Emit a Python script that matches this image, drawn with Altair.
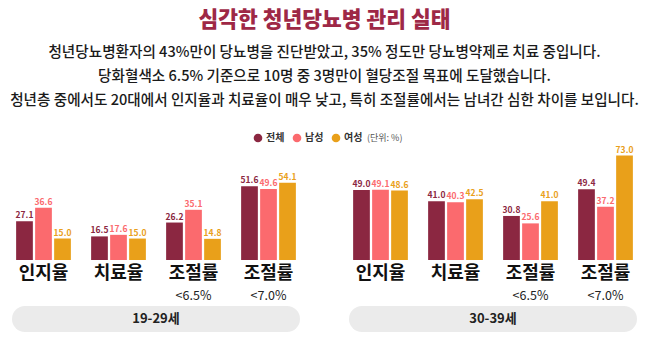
import altair as alt
import pandas as pd

# ---- data ----
metrics = ["인지율", "치료율", "조절률<6.5", "조절률<7.0"]
metric_labels = ["인지율", "치료율", "조절률", "조절률"]
metric_sub = ["", "", "<6.5%", "<7.0%"]
genders = ["전체", "남성", "여성"]
colors = ["#8b2741", "#fb6a6e", "#e9a01a"]
ages = ["19-29세", "30-39세"]

total_19_29 = [27.1, 16.5, 26.2, 51.6]
male_19_29 = [36.6, 17.6, 35.1, 49.6]
female_19_29 = [15.0, 15.0, 14.8, 54.1]

total_30_39 = [49.0, 41.0, 30.8, 49.4]
male_30_39 = [49.1, 40.3, 25.6, 37.2]
female_30_39 = [48.6, 42.5, 41.0, 73.0]

title_text = "심각한 청년당뇨병 관리 실태"
subtitle_lines = [
    "청년당뇨병환자의 43%만이 당뇨병을 진단받았고, 35% 정도만 당뇨병약제로 치료 중입니다.",
    "당화혈색소 6.5% 기준으로 10명 중 3명만이 혈당조절 목표에 도달했습니다.",
    "청년층 중에서도 20대에서 인지율과 치료율이 매우 낮고, 특히 조절률에서는 남녀간 심한 차이를 보입니다.",
]

FONT = "Noto Sans CJK KR"
BASE_Y = 147
PX_PER_UNIT = 1.43


def xenc():
    return alt.X("metric:N", sort=metrics,
                 scale=alt.Scale(domain=metrics, paddingInner=0.27, paddingOuter=0.135),
                 axis=None)


def panel(age, series):
    rows = []
    for g, vals in zip(genders, series):
        for m, v in zip(metrics, vals):
            rows.append({"metric": m, "gender": g, "value": v, "label": f"{v:.1f}"})
    df = pd.DataFrame(rows)

    x = xenc()
    xo = alt.XOffset("gender:N", sort=genders,
                     scale=alt.Scale(domain=genders, paddingInner=0.12))
    y = alt.Y("value:Q", axis=None,
              scale=alt.Scale(domain=[0, 80], range=[BASE_Y, BASE_Y - 80 * PX_PER_UNIT]))
    color = alt.Color(
        "gender:N", sort=genders,
        scale=alt.Scale(domain=genders, range=colors),
        legend=alt.Legend(
            orient="none", legendX=247, legendY=20, direction="horizontal",
            title="(단위: %)", titleOrient="right", titleFontSize=9,
            titleFontWeight="normal", titleColor="#555555", titlePadding=5,
            symbolType="circle", symbolSize=75, symbolStrokeWidth=0,
            labelFontSize=10, labelFontWeight="bold", labelColor="#333333",
            columnPadding=7, labelOffset=3,
        ),
    )

    base = alt.Chart(df)
    bars = base.mark_bar().encode(x=x, xOffset=xo, y=y, color=color)
    vlabels = base.mark_text(dy=-6, fontSize=8.5, fontWeight="bold", font=FONT).encode(
        x=x, xOffset=xo, y=y, text="label:N", color=color
    )

    cat_df = pd.DataFrame({"metric": metrics, "name": metric_labels, "sub": metric_sub})
    cat = alt.Chart(cat_df).mark_text(fontSize=18, fontWeight="bold", font=FONT,
                                      color="#111111", baseline="middle").encode(
        x=xenc(), y=alt.value(161), text="name:N")
    sub = alt.Chart(cat_df).mark_text(fontSize=12.5, font=FONT, color="#222222",
                                      baseline="middle").encode(
        x=xenc(), y=alt.value(183), text="sub:N")

    age_df = pd.DataFrame({"age": [age]})
    pill = alt.Chart(age_df).mark_rule(color="#ebebeb", strokeWidth=26, strokeCap="round").encode(
        x=alt.value(19), x2=alt.value(281), y=alt.value(206))
    pill_text = alt.Chart(age_df).mark_text(fontSize=13, fontWeight="bold", font=FONT,
                                            color="#222222", baseline="middle").encode(
        x=alt.value(150), y=alt.value(206), text="age:N")

    return alt.layer(bars, vlabels, cat, sub, pill, pill_text).properties(width=300, height=225)


left = panel(ages[0], [total_19_29, male_19_29, female_19_29])
right = panel(ages[1], [total_30_39, male_30_39, female_30_39])

chart = (
    alt.hconcat(left, right, spacing=37)
    .properties(
        title=alt.TitleParams(
            text=title_text, subtitle=subtitle_lines, anchor="middle",
            font=FONT, fontSize=21.5, fontWeight=900, color="#9e2846",
            subtitleFont=FONT, subtitleFontSize=14.6, subtitleFontWeight=500,
            subtitleColor="#1a1a1a", subtitleLineHeight=24, subtitlePadding=14,
            offset=5,
        ),
        padding={"left": 6, "top": 9, "right": 0, "bottom": 0},
    )
    .configure(font=FONT, background="white")
    .configure_view(stroke=None, fill=None)
)

chart.save("out.html", embed_options={"renderer": "svg", "actions": False})
